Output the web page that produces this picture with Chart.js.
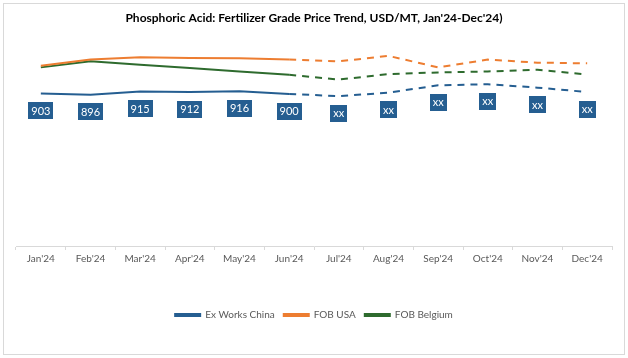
<!DOCTYPE html>
<html>
<head>
<meta charset="utf-8">
<script src="https://cdn.jsdelivr.net/npm/chart.js@4.4.1/dist/chart.umd.min.js"></script>
<style>
  html, body { margin: 0; padding: 0; background: #fff; }
  #wrap { width: 628px; height: 358px; position: relative; }
</style>
</head>
<body>
<div id="wrap"><canvas id="c" width="628" height="358"></canvas></div>
<script>
const months = ["Jan'24","Feb'24","Mar'24","Apr'24","May'24","Jun'24","Jul'24","Aug'24","Sep'24","Oct'24","Nov'24","Dec'24"];
const exWorksChina = [903, 896, 915, 912, 916, 900, 888, 908, 952, 958, 938, 912];
const fobUSA = [1068, 1104, 1118, 1114, 1112, 1104, 1094, 1126, 1058, 1104, 1086, 1082];
const fobBelgium = [1058, 1094, 1074, 1054, 1034, 1014, 986, 1018, 1028, 1034, 1044, 1016];
const chinaLabels = ["903","896","915","912","916","900","xx","xx","xx","xx","xx","xx"];
const lastActualIndex = 5;

const BLUE = '#255E91', ORANGE = '#ED7D31', GREEN = '#2E6B2E';
const FONT = 'Lato, "Open Sans", sans-serif';

const dashAfter = (ctx) => ctx.p0DataIndex >= lastActualIndex ? [7, 6] : undefined;

const frame = {
  id: 'frame',
  beforeDraw(chart) {
    const c = chart.ctx;
    c.save();
    c.fillStyle = '#fff';
    c.fillRect(0, 0, chart.width, chart.height);
    c.strokeStyle = '#D9D9D9';
    c.lineWidth = 1;
    c.strokeRect(3.5, 3.5, chart.width - 7, chart.height - 7);
    c.restore();
  }
};

const boxLabels = {
  id: 'boxLabels',
  afterDatasetsDraw(chart) {
    const meta = chart.getDatasetMeta(0);
    const c = chart.ctx;
    c.save();
    c.font = '11px ' + FONT;
    c.textAlign = 'center';
    c.textBaseline = 'middle';
    meta.data.forEach((pt, i) => {
      const txt = chinaLabels[i];
      const w = c.measureText(txt).width + 6;
      const h = 17;
      const cx = pt.x, cy = pt.y + 17;
      c.fillStyle = BLUE;
      c.fillRect(Math.round(cx - w / 2), Math.round(cy - h / 2), Math.round(w), h);
      c.fillStyle = '#fff';
      c.fillText(txt, cx, cy + 0.5);
    });
    c.restore();
  }
};

new Chart(document.getElementById('c'), {
  type: 'line',
  data: {
    labels: months,
    datasets: [
      { label: 'Ex Works China', data: exWorksChina, borderColor: BLUE, backgroundColor: BLUE,
        borderWidth: 2, pointRadius: 0, tension: 0, segment: { borderDash: dashAfter } },
      { label: 'FOB USA', data: fobUSA, borderColor: ORANGE, backgroundColor: ORANGE,
        borderWidth: 2, pointRadius: 0, tension: 0, segment: { borderDash: dashAfter } },
      { label: 'FOB Belgium', data: fobBelgium, borderColor: GREEN, backgroundColor: GREEN,
        borderWidth: 2, pointRadius: 0, tension: 0, segment: { borderDash: dashAfter } }
    ]
  },
  options: {
    responsive: false,
    animation: false,
    devicePixelRatio: 1,
    layout: { padding: { left: 16, right: 16, top: 0, bottom: 28 } },
    scales: {
      x: {
        offset: true,
        grid: { display: true, offset: true, drawOnChartArea: false, drawTicks: true, tickLength: 4, color: '#D9D9D9' },
        border: { display: true, color: '#D9D9D9' },
        ticks: { color: '#595959', font: { family: FONT, size: 10 }, padding: 3, maxRotation: 0, autoSkip: false },
        afterFit(scale) { scale.height = 55; }
      },
      y: { display: false, min: 0, max: 1200 }
    },
    plugins: {
      title: {
        display: true,
        text: "Phosphoric Acid: Fertilizer Grade Price Trend, USD/MT, Jan'24-Dec'24)",
        color: '#000',
        font: { family: FONT, size: 12, weight: 'bold' },
        padding: { top: 11, bottom: 18 }
      },
      legend: {
        position: 'bottom',
        labels: {
          color: '#595959',
          font: { family: FONT, size: 10 },
          boxWidth: 25,
          boxHeight: 2,
          padding: 9
        }
      },
      tooltip: { enabled: false }
    }
  },
  plugins: [frame, boxLabels]
});
</script>
</body>
</html>
